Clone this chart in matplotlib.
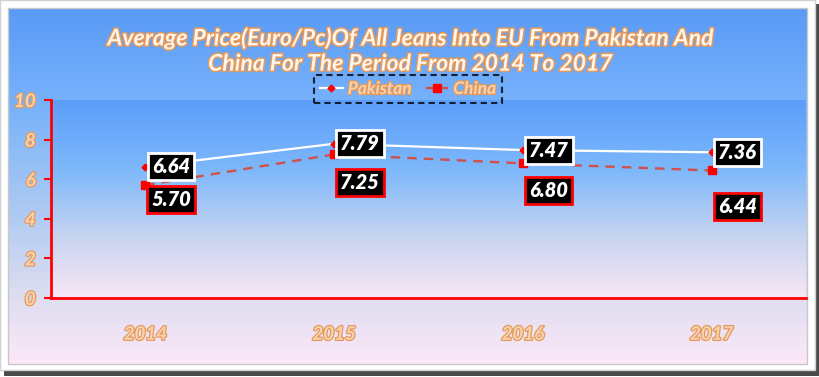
import numpy as np
import matplotlib
matplotlib.use("Agg")
import matplotlib.pyplot as plt
from matplotlib.colors import LinearSegmentedColormap
from matplotlib.patches import Rectangle
import matplotlib.patheffects as pe

years = ["2014", "2015", "2016", "2017"]
pakistan = [6.64, 7.79, 7.47, 7.36]
china = [5.70, 7.25, 6.80, 6.44]
title = "Average Price(Euro/Pc)Of All Jeans Into EU From Pakistan And\nChina For The Period From 2014 To 2017"

# label offsets (pixels) for China data labels (style only)
china_dy = [-14, -28, -27, -36]

W, H = 820, 377
fig = plt.figure(figsize=(W / 100, H / 100), dpi=100)
fig.patch.set_facecolor("white")

FONT = "Lato"
outline_title = [pe.withStroke(linewidth=2.2, foreground="#E39a5c")]
outline_tick = [pe.withStroke(linewidth=1.8, foreground="#E39a5c")]

# background axes (pixel coords)
bg = fig.add_axes([0, 0, 1, 1])
bg.set_xlim(0, W)
bg.set_ylim(H, 0)
bg.axis("off")
bg.set_zorder(-10)
bg.add_patch(Rectangle((4, 4), 815, 372, facecolor="#4a4a4a", edgecolor="none"))
bg.add_patch(Rectangle((0, 0), 815, 370, facecolor="white", edgecolor="#d0d0d0", lw=1))
panel_cmap = LinearSegmentedColormap.from_list(
    "panel", [(0, "#5A9AF7"), (0.28, "#78B3FB"), (0.55, "#A9C8F3"), (0.8, "#DCDDF0"), (1, "#FCE8F8")])
grad = np.linspace(0, 1, 256).reshape(-1, 1)
bg.imshow(grad, cmap=panel_cmap, extent=(8, 807, 364, 8), aspect="auto", zorder=1)
bg.add_patch(Rectangle((8, 8), 799, 356, facecolor="none", edgecolor="#c8c8c8", lw=1, zorder=2))

# main axes
x0, x1, ytop, ybot = 51, 806, 100, 298
ax = fig.add_axes([x0 / W, 1 - ybot / H, (x1 - x0) / W, (ybot - ytop) / H])
ax.patch.set_alpha(0)
area_cmap = LinearSegmentedColormap.from_list(
    "area", [(0, "#5C9EFA"), (0.35, "#7DB8FB"), (0.7, "#C9D5F0"), (1, "#F8E6F5")])
xs = np.arange(len(years))
ax.set_xlim(-0.5, len(years) - 0.5)
ax.set_ylim(0, 10)
ax.imshow(grad, cmap=area_cmap, extent=(-0.5, len(years) - 0.5, 0, 10), aspect="auto", zorder=0)

ax.plot(xs, pakistan, color="white", lw=1.6, marker="D", markersize=3.5,
        markerfacecolor="red", markeredgecolor="red", zorder=3, label="Pakistan")
ax.plot(xs, china, color="#D2504C", lw=1.7, ls=(0, (4, 3)), marker="s", markersize=5.5,
        markerfacecolor="red", markeredgecolor="red", zorder=3, label="China")

for i in xs:
    ax.annotate(f"{pakistan[i]:.2f}", (xs[i], pakistan[i]), xytext=(26, 0), textcoords="offset pixels",
                ha="center", va="center", color="white", fontsize=14.5, fontweight="heavy",
                fontstyle="italic", family=FONT, zorder=5,
                bbox=dict(boxstyle="square,pad=0.2", fc="black", ec="white", lw=2))
    ax.annotate(f"{china[i]:.2f}", (xs[i], china[i]), xytext=(26, china_dy[i]), textcoords="offset pixels",
                ha="center", va="center", color="white", fontsize=14.5, fontweight="heavy",
                fontstyle="italic", family=FONT, zorder=5,
                bbox=dict(boxstyle="square,pad=0.2", fc="black", ec="red", lw=2))

for s in ["top", "right"]:
    ax.spines[s].set_visible(False)
for s in ["left", "bottom"]:
    ax.spines[s].set_color("red")
    ax.spines[s].set_linewidth(2)
ax.set_yticks(range(0, 11, 2))
ax.set_xticks(xs)
ax.set_xticklabels(years)
ax.tick_params(axis="y", colors="red", length=5, width=1.5, direction="out", pad=6)
ax.tick_params(axis="x", length=0, pad=20)
for lab in ax.get_yticklabels() + ax.get_xticklabels():
    lab.set_color("#FAD3AE")
    lab.set_fontfamily(FONT)
    lab.set_fontweight("bold")
    lab.set_fontstyle("italic")
    lab.set_fontsize(13.5)
    lab.set_path_effects(outline_tick)

fig.text(410 / W, 1 - 51 / H, title, ha="center", va="center", fontsize=16.5, family=FONT,
         fontweight="bold", fontstyle="italic", color="#FFF6EE", linespacing=1.25,
         path_effects=outline_title)

leg = ax.legend(loc="center", bbox_to_anchor=(408 / W, 1 - 89 / H), bbox_transform=fig.transFigure,
                ncol=2, frameon=True, fancybox=False, handlelength=1.3, handletextpad=0.3,
                columnspacing=0.8, borderpad=0.35, borderaxespad=0,
                prop=dict(family=FONT, weight="bold", style="italic", size=12.5))
fr = leg.get_frame()
fr.set_facecolor("none")
fr.set_edgecolor("black")
fr.set_linestyle((0, (3, 2)))
fr.set_linewidth(1.5)
for t in leg.get_texts():
    t.set_color("#FAD3AE")
    t.set_path_effects(outline_tick)

fig.savefig("out.png", dpi=100)
